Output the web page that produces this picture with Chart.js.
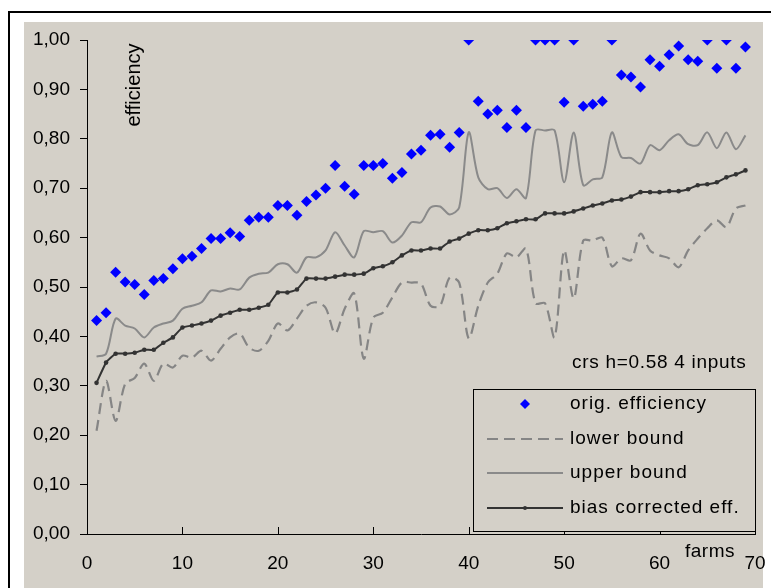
<!DOCTYPE html>
<html>
<head>
<meta charset="utf-8">
<script src="https://cdn.jsdelivr.net/npm/chart.js@4/dist/chart.umd.min.js"></script>
<style>
  html, body { margin: 0; padding: 0; background: #fff; }
</style>
</head>
<body>
<canvas id="myChart" width="771" height="588"></canvas>
<script>
const farms = [1,2,3,4,5,6,7,8,9,10,11,12,13,14,15,16,17,18,19,20,21,22,23,24,25,26,27,28,29,30,
  31,32,33,34,35,36,37,38,39,40,41,42,43,44,45,46,47,48,49,50,51,52,53,54,55,56,57,58,59,60,
  61,62,63,64,65,66,67,68,69]

const origEff = [0.432,0.448,0.530,0.510,0.505,0.485,0.513,0.517,0.537,0.557,
  0.562,0.578,0.598,0.598,0.610,0.602,0.635,0.641,0.641,0.665,
  0.665,0.645,0.673,0.686,0.700,0.746,0.704,0.688,0.746,0.746,
  0.750,0.720,0.732,0.769,0.777,0.807,0.809,0.783,0.813,1.000,
  0.876,0.850,0.858,0.823,0.858,0.823,1.000,1.000,1.000,0.874,
  1.000,0.866,0.870,0.876,1.000,0.929,0.925,0.905,0.960,0.947,
  0.970,0.988,0.960,0.957,1.000,0.943,1.000,0.943,0.986]

const lowerBound = [0.209,0.310,0.229,0.304,0.316,0.345,0.310,0.345,0.337,0.361,
  0.357,0.371,0.351,0.375,0.398,0.406,0.377,0.371,0.391,0.426,
  0.412,0.436,0.462,0.469,0.458,0.406,0.456,0.487,0.355,0.438,
  0.448,0.479,0.509,0.509,0.507,0.462,0.462,0.519,0.509,0.396,
  0.462,0.509,0.527,0.568,0.560,0.578,0.467,0.467,0.398,0.574,
  0.477,0.594,0.594,0.600,0.542,0.558,0.554,0.608,0.574,0.564,
  0.558,0.540,0.574,0.598,0.619,0.635,0.621,0.659,0.665]

const upperBound = [0.359,0.365,0.436,0.422,0.416,0.398,0.418,0.426,0.432,0.456,
  0.462,0.469,0.493,0.491,0.497,0.495,0.519,0.527,0.529,0.546,
  0.546,0.529,0.560,0.560,0.574,0.611,0.584,0.560,0.613,0.611,
  0.613,0.590,0.604,0.631,0.631,0.661,0.663,0.647,0.661,0.813,
  0.722,0.698,0.700,0.680,0.698,0.680,0.817,0.817,0.817,0.712,
  0.813,0.706,0.718,0.722,0.813,0.763,0.761,0.750,0.787,0.777,
  0.797,0.809,0.789,0.787,0.813,0.781,0.813,0.779,0.807]

const biasCorr = [0.306,0.347,0.365,0.365,0.367,0.373,0.373,0.387,0.398,0.418,
  0.422,0.426,0.432,0.442,0.448,0.454,0.454,0.458,0.464,0.489,
  0.489,0.495,0.517,0.517,0.517,0.521,0.525,0.525,0.527,0.538,
  0.542,0.550,0.564,0.574,0.574,0.578,0.578,0.592,0.598,0.608,
  0.615,0.615,0.619,0.629,0.633,0.637,0.637,0.649,0.649,0.649,
  0.653,0.659,0.665,0.669,0.675,0.677,0.683,0.692,0.692,0.692,
  0.694,0.694,0.698,0.706,0.708,0.712,0.722,0.728,0.736]

const xTicks = [0,10,20,30,40,50,60,70]
const seriesNames = ['orig. efficiency','lower bound','upper bound','bias corrected eff.']
const xTitle = 'farms'
const yTitle = 'efficiency'
const note = 'crs h=0.58 4 inputs'

const FONT = '"Liberation Sans", Arial, sans-serif'
const GRAY_BG = '#d4d0c8'

function pts(arr){
    return arr.map((v, i) => ({x: farms[i], y: v}))
}

// white page, black frame, grey chart background
const frame = {
    id: 'frame',
    beforeDraw(chart){
        const ctx = chart.ctx
        ctx.save()
        ctx.fillStyle = '#fff'
        ctx.fillRect(0, 0, chart.width, chart.height)
        ctx.fillStyle = GRAY_BG
        ctx.fillRect(24, 22, 739, 566)
        ctx.strokeStyle = '#000'
        ctx.lineWidth = 2
        ctx.beginPath()
        ctx.moveTo(9, 588)
        ctx.lineTo(9, 12)
        ctx.lineTo(771, 12)
        ctx.stroke()
        ctx.restore()
    }
}

// inside x ticks, texts and the boxed legend
const extras = {
    id: 'extras',
    afterDraw(chart){
        const ctx = chart.ctx
        const xs = chart.scales.x
        const area = chart.chartArea
        ctx.save()
        ctx.strokeStyle = '#000'
        ctx.lineWidth = 1
        xTicks.forEach(t => {
            if (t === 0) return
            const px = Math.round(xs.getPixelForValue(t)) + 0.5
            ctx.beginPath()
            ctx.moveTo(px, area.bottom)
            ctx.lineTo(px, area.bottom - 7)
            ctx.stroke()
        })

        ctx.fillStyle = '#000'
        ctx.textBaseline = 'middle'
        ctx.textAlign = 'left'
        ctx.font = '19px ' + FONT
        ctx.letterSpacing = '0.5px'
        ctx.fillText(xTitle, 685, 552)
        ctx.letterSpacing = '0.7px'
        ctx.fillText(note, 572, 363)

        ctx.save()
        ctx.letterSpacing = '0px'
        ctx.font = '20px ' + FONT
        ctx.translate(134, 85)
        ctx.rotate(-Math.PI / 2)
        ctx.textAlign = 'center'
        ctx.fillText(yTitle, 0, 0)
        ctx.restore()

        // legend box
        const bx = 473.5, by = 389.5, bw = 282, bh = 142
        ctx.fillStyle = GRAY_BG
        ctx.fillRect(bx, by, bw, bh)
        ctx.strokeStyle = '#000'
        ctx.lineWidth = 1
        ctx.strokeRect(bx, by, bw, bh)

        const rows = [404, 439, 473, 508]
        const ds = chart.data.datasets
        ctx.letterSpacing = '1px'
        ctx.fillStyle = '#000'
        ctx.textAlign = 'left'
        rows.forEach((ry, i) => {
            ctx.fillText(seriesNames[i], 570, ry)
        })
        ctx.letterSpacing = '0px'

        // diamond
        ctx.fillStyle = ds[0].backgroundColor
        ctx.beginPath()
        ctx.moveTo(525, rows[0] - 5)
        ctx.lineTo(530, rows[0])
        ctx.lineTo(525, rows[0] + 5)
        ctx.lineTo(520, rows[0])
        ctx.closePath()
        ctx.fill()

        // dashed
        ctx.strokeStyle = ds[1].borderColor
        ctx.lineWidth = ds[1].borderWidth
        ctx.setLineDash(ds[1].borderDash)
        ctx.beginPath()
        ctx.moveTo(487, rows[1])
        ctx.lineTo(563, rows[1])
        ctx.stroke()
        ctx.setLineDash([])

        ctx.strokeStyle = ds[2].borderColor
        ctx.lineWidth = ds[2].borderWidth
        ctx.beginPath()
        ctx.moveTo(487, rows[2])
        ctx.lineTo(563, rows[2])
        ctx.stroke()

        ctx.strokeStyle = ds[3].borderColor
        ctx.lineWidth = ds[3].borderWidth
        ctx.beginPath()
        ctx.moveTo(487, rows[3])
        ctx.lineTo(563, rows[3])
        ctx.stroke()
        ctx.fillStyle = ds[3].borderColor
        ctx.beginPath()
        ctx.arc(525, rows[3], 2, 0, Math.PI * 2)
        ctx.fill()

        ctx.restore()
    }
}

let chart = new Chart(document.getElementById('myChart'), {
    type: 'line',
    data: {
        datasets: [{
            label: seriesNames[0],
            data: pts(origEff),
            showLine: false,
            pointStyle: 'rectRot',
            pointRadius: 5.5,
            pointBorderWidth: 0,
            backgroundColor: '#0000ff',
            borderColor: '#0000ff'
        }, {
            label: seriesNames[1],
            data: pts(lowerBound),
            borderColor: '#858585',
            borderWidth: 2.2,
            borderDash: [11, 6],
            pointRadius: 0,
            tension: 0.3
        }, {
            label: seriesNames[2],
            data: pts(upperBound),
            borderColor: '#8a8a8a',
            borderWidth: 2,
            pointRadius: 0,
            tension: 0.3
        }, {
            label: seriesNames[3],
            data: pts(biasCorr),
            borderColor: '#333333',
            backgroundColor: '#333333',
            borderWidth: 2,
            pointRadius: 2.3,
            pointBorderWidth: 0,
            tension: 0.15
        }]
    },
    options: {
        responsive: false,
        animation: false,
        layout: { padding: { left: 0, top: 40, right: 16, bottom: 0 } },
        plugins: {
            legend: { display: false },
            tooltip: { enabled: false }
        },
        scales: {
            x: {
                type: 'linear',
                min: 0, max: 70,
                grid: { display: false },
                border: { display: true, color: '#000', width: 1 },
                ticks: {
                    stepSize: 10,
                    padding: 10,
                    color: '#000',
                    font: { family: FONT, size: 19 }
                },
                afterFit(scale){
                    scale.height = 54
                    scale.paddingLeft = 0
                    scale.paddingRight = 0
                }
            },
            y: {
                min: 0, max: 1,
                grid: { display: true, drawOnChartArea: false, tickLength: 7, color: '#000' },
                border: { display: true, color: '#000', width: 1 },
                ticks: {
                    stepSize: 0.1,
                    padding: 10,
                    color: '#000',
                    font: { family: FONT, size: 19 },
                    callback: v => v.toFixed(2).replace('.', ',')
                },
                afterFit(scale){
                    scale.width = 87
                    scale.paddingTop = 0
                    scale.paddingBottom = 0
                }
            }
        }
    },
    plugins: [frame, extras]
})
</script>
</body>
</html>
